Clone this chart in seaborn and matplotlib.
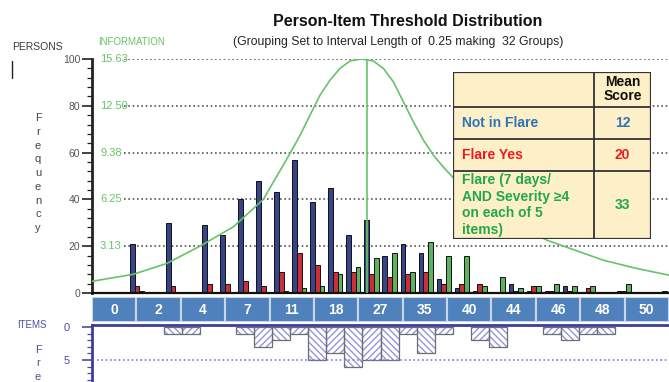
import numpy as np
import pandas as pd
import matplotlib
matplotlib.use("Agg")
import matplotlib.pyplot as plt
from matplotlib.patches import Rectangle
from matplotlib.lines import Line2D
import seaborn as sns

# persons per interval (32 groups of 0.25 logits)
bins = list(range(32))
not_in_flare = [0, 0, 21, 0, 30, 0, 29, 25, 40, 48, 43, 57, 39, 45, 25, 31,
                16, 21, 17, 6, 2, 1, 0, 4, 1, 1, 3, 0, 0, 1, 0, 0]
flare_yes = [0, 0, 3, 0, 3, 0, 4, 4, 5, 3, 9, 17, 12, 9, 9, 8,
             7, 8, 9, 4, 4, 4, 0, 1, 3, 1, 1, 2, 0, 1, 0, 0]
flare_severe = [0, 0, 1, 0, 0, 0, 0, 0, 0, 0, 1, 2, 3, 8, 11, 15,
                17, 9, 22, 16, 16, 3, 7, 2, 3, 4, 3, 3, 0, 4, 0, 1]
item_counts = [0, 0, 0, 0, 1, 1, 0, 0, 1, 3, 2, 1, 5, 4, 6, 5,
               5, 1, 4, 1, 0, 2, 3, 0, 0, 1, 2, 1, 1, 0, 0, 0]

# test information curve, read along the interval axis
info_x = [-0.5, 1.79, 3.64, 5.49, 7.34, 9.0, 10.48, 11.04, 11.59, 12.15, 12.70,
          13.25, 13.81, 14.46, 15.10, 15.66, 16.21, 16.77, 17.32, 17.88, 18.43,
          18.98, 19.54, 22.13, 24.72, 27.86, 29.71, 31.5]
info_y = [0.78, 1.25, 1.97, 3.13, 4.42, 6.25, 9.32, 10.53, 11.88, 13.22, 14.22,
          15.0, 15.5, 15.63, 15.5, 15.0, 14.11, 12.77, 11.44, 10.21, 9.21,
          8.42, 7.69, 5.16, 3.53, 2.19, 1.64, 1.19]
info_peak_x = 14.77
info_ticks = [3.13, 6.25, 9.38, 12.50, 15.63]
info_labels = ["3.13", "6.25", "9.38", "12.50", "15.63"]

score_labels = ["0", "2", "4", "7", "11", "18", "27", "35", "40", "44", "46", "48", "50"]

table_groups = ["Not in Flare", "Flare Yes",
                "Flare (7 days/\nAND Severity \u22654\non each of 5\nitems)"]
mean_scores = [12, 20, 33]

group_names = ["Not in Flare", "Flare Yes", "Flare severe"]
bar_colors = ["#2B3A96", "#E5161E", "#4EC24E"]
text_colors = ["#2F74B5", "#EE1C24", "#22A84A"]
info_green = "#66C466"
item_blue = "#4D4DA6"

sns.set_style("white")
plt.rcParams["font.family"] = ["Liberation Sans", "DejaVu Sans"]
plt.rcParams["hatch.linewidth"] = 1.0

W, H = 669, 382


def fbox(x0, y0, x1, y1):
    return [x0 / W, 1 - y1 / H, (x1 - x0) / W, (y1 - y0) / H]


def px2bin(x):
    return (x - 92) / 577 * 32 - 0.5


def ftxt(x, y, s, **kw):
    fig.text(x / W, 1 - y / H, s, **kw)


fig = plt.figure(figsize=(W / 100, H / 100), dpi=100)

# ---- persons histogram
ax = fig.add_axes(fbox(92, 59, 669, 293))
df = pd.DataFrame({
    "bin": bins * 3,
    "group": sum([[g] * 32 for g in group_names], []),
    "count": not_in_flare + flare_yes + flare_severe,
})
ax.hlines([20, 40, 60, 80, 100], px2bin(124), 31.5, colors="#555555",
          linestyles=(0, (1, 1.6)), lw=1.2, zorder=0)
sns.barplot(data=df, x="bin", y="count", hue="group", hue_order=group_names,
            palette=dict(zip(group_names, bar_colors)), width=0.78, gap=0,
            errorbar=None, legend=False, edgecolor="#111111", linewidth=0.7, ax=ax)
ax.set_xlim(-0.5, 31.5)
ax.set_ylim(0, 100)
ax.set_xticks([])
ax.set_xlabel("")
ax.set_ylabel("")
ax.set_yticks(range(0, 101, 20))
ax.set_yticks(range(0, 101, 4), minor=True)
ax.tick_params(axis="y", which="major", left=True, length=7, width=1.2, color="#222222",
               labelsize=7.5, labelcolor="#555555", pad=1.5)
ax.tick_params(axis="y", which="minor", left=True, length=3.5, width=0.9, color="#222222")
for s in ["top", "right"]:
    ax.spines[s].set_visible(False)
ax.spines["left"].set_linewidth(2)
ax.spines["left"].set_color("#222222")
ax.spines["bottom"].set_linewidth(1.6)
ax.spines["bottom"].set_color("#111111")
ax.patch.set_alpha(0)

# information curve on its own scale
ax2 = ax.twinx()
ax2.set_ylim(0, info_ticks[-1])
ax2.axis("off")
sns.lineplot(x=info_x, y=info_y, ax=ax2, color=info_green, lw=1.2)
ax2.vlines(info_peak_x, 0, max(info_y), color=info_green, lw=1.2)
for v, lab in zip(info_ticks, info_labels):
    ax2.text(px2bin(100), v, lab, color=info_green, fontsize=8, ha="left", va="center")

# ---- score band
axb = fig.add_axes(fbox(92, 297, 669, 322))
axb.bar(np.arange(len(score_labels)) + 0.5, 1, width=1, color="#4F81BD",
        edgecolor="#C8D6EA", lw=1.5)
for i, lab in enumerate(score_labels):
    axb.text(i + 0.5, 0.5, lab, color="white", fontsize=10, weight="bold",
             ha="center", va="center")
axb.set_xlim(0, len(score_labels))
axb.set_ylim(0, 1)
axb.axis("off")

# ---- items histogram (hanging down)
axi = fig.add_axes(fbox(92, 325, 669, 382))
sns.barplot(x=bins, y=item_counts, color="white", width=1.0, edgecolor="#9494DC",
            linewidth=0, errorbar=None, ax=axi)
for i, p in enumerate(axi.patches):
    p.set_hatch("\\\\\\\\\\" if i % 2 == 0 else "/////")
nz = [b for b, c in zip(bins, item_counts) if c > 0]
axi.bar(nz, [c for c in item_counts if c > 0], width=1.0, fill=False,
        edgecolor="#6E6E6E", lw=0.9)
axi.hlines(5, px2bin(97), 31.5, colors="#7C7CD6", linestyles=(0, (1, 1.6)), lw=1.2)
axi.set_xlim(-0.5, 31.5)
axi.set_ylim(8.33, -0.3)
axi.set_xticks([])
axi.set_xlabel("")
axi.set_ylabel("")
axi.set_yticks([0, 5])
axi.set_yticks(range(0, 9), minor=True)
axi.tick_params(axis="y", which="major", left=True, length=7, width=1.2, color=item_blue,
                labelsize=8, labelcolor=item_blue, pad=9)
axi.tick_params(axis="y", which="minor", left=True, length=3.5, width=0.9, color=item_blue)
for s in ["bottom", "right"]:
    axi.spines[s].set_visible(False)
for s in ["left", "top"]:
    axi.spines[s].set_linewidth(2)
    axi.spines[s].set_color("#3E3E98")

# ---- mean score table
axt = fig.add_axes(fbox(452.7, 71.7, 650.7, 239))
tw, th = 198, 167.3
axt.set_xlim(0, tw)
axt.set_ylim(th, 0)
axt.axis("off")
axt.add_patch(Rectangle((0, 0), tw, th, facecolor="#FDEFC7", edgecolor="#333333", lw=1.6))
col_x = 141.6
row_y = [0, 35, 67.3, 99.3, th]
axt.plot([col_x, col_x], [0, th], color="#333333", lw=1.3)
for y in row_y[1:-1]:
    axt.plot([0, tw], [y, y], color="#333333", lw=1.3)
axt.text((col_x + tw) / 2, row_y[1] / 2, "Mean\nScore", ha="center", va="center",
         fontsize=10, weight="bold", color="#111111", linespacing=1.0)
for i, (g, m) in enumerate(zip(table_groups, mean_scores)):
    yc = (row_y[i + 1] + row_y[i + 2]) / 2
    axt.text(9, yc, g, ha="left", va="center", fontsize=10, weight="bold",
             color=text_colors[i], linespacing=1.22)
    axt.text((col_x + tw) / 2, yc, str(m), ha="center", va="center", fontsize=10,
             weight="bold", color=text_colors[i])

# ---- titles and axis captions
ftxt(407.5, 22, "Person-Item Threshold Distribution", ha="center", va="center",
     fontsize=11.5, weight="bold", color="#111111")
ftxt(398.5, 42, "(Grouping Set to Interval Length of  0.25 making  32 Groups)",
     ha="center", va="center", fontsize=8.8, color="#222222")
ftxt(12, 47, "PERSONS", ha="left", va="center", fontsize=7.5, color="#3A3A3A")
ftxt(98, 42, "INFORMATION", ha="left", va="center", fontsize=7, color=info_green)
ftxt(17, 325, "ITEMS", ha="left", va="center", fontsize=7, color=item_blue)
for i, ch in enumerate("Frequency"):
    ftxt(38, 118 + i * 13.75, ch, ha="center", va="center", fontsize=8, color="#444444")
for i, ch in enumerate("Fre"):
    ftxt(38, 350 + i * 13.5, ch, ha="center", va="center", fontsize=8, color="#50508A")
fig.add_artist(Line2D([12 / W, 12 / W], [1 - 61 / H, 1 - 78 / H], color="#222222", lw=1))

fig.savefig("out.png", dpi=100, facecolor="white")
plt.close(fig)
